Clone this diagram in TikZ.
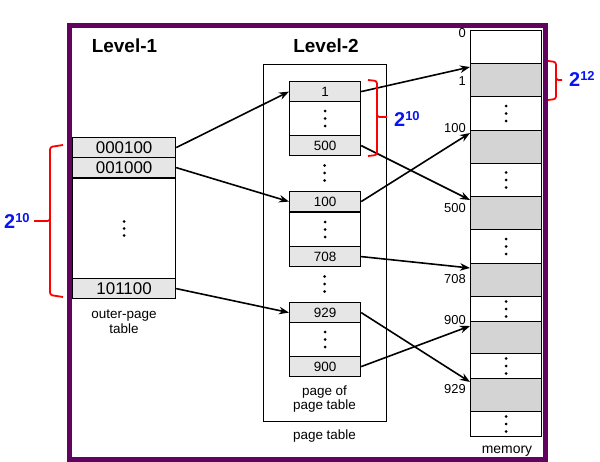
\documentclass[tikz,border=0pt]{standalone}
\usepackage{fontspec}
\setmainfont{Liberation Sans}
\usetikzlibrary{arrows.meta,calc}
\definecolor{framepurple}{RGB}{96,4,96}
\definecolor{rowgray}{RGB}{230,230,230}
\definecolor{memgray}{RGB}{212,212,212}
\definecolor{braceblue}{RGB}{10,20,240}
\newcommand\fs[1]{\fontsize{#1}{#1}\selectfont}
\newcommand\threedots{\threedotsgen}
\newcommand\threedotsgen[2]{\foreach \d in {-1,0,1} {\fill ($(#1)+(0,\d*#2)$) circle (1.5);}}
\begin{document}
\begin{tikzpicture}[x=1bp,y=-1bp,
  box/.style={draw, line width=1.2bp, inner sep=0pt, anchor=north west},
  l1row/.style={box, fill=rowgray, minimum width=103bp, minimum height=20bp, font=\fs{17}},
  ptrow/.style={box, fill=rowgray, minimum width=71bp, minimum height=20bp, font=\fs{13.5}},
  ptblank/.style={box, minimum width=71bp, minimum height=34bp},
  memcell/.style={box, minimum width=71bp, minimum height=#1},
  memfull/.style={box, fill=memgray, minimum width=71bp, minimum height=33bp},
  lbl/.style={font=\fs{13.5}, inner sep=0pt},
  memlbl/.style={font=\fs{13}, inner sep=0pt, anchor=east},
  title/.style={font=\bfseries\fs{19}, inner sep=0pt, anchor=base},
  link/.style={line width=1.6bp, -{Stealth[length=10bp,width=7.5bp]}},
  brace/.style={red, line width=1.8bp, rounded corners=2.5bp},
  power/.style={text=braceblue, font=\bfseries, inner sep=0pt, anchor=base west}
]
\useasboundingbox (0,0) rectangle (600,462);
\fill[white] (0,0) rectangle (600,462);
% frame
\draw[framepurple, line width=4.5bp] (69.5,25.5) rectangle (545.5,459.5);

% titles
\node[title] (t1) at (124.5,53) {Level-1};
\node[title] (t2) at (326,53) {Level-2};

% Level-1 table
\node[l1row] (a1) at (72,137) {000100};
\node[l1row] (a2) at (72,157) {001000};
\node[box, minimum width=103bp, minimum height=100bp] (ab) at (72,178) {};
\node[l1row] (a3) at (72,278) {101100};
\threedots{ab.center}{7}
\node[lbl, align=center] (olbl) at (124,321.5) {outer-page\\[1bp]table};

% Level-2 page table
\node[box, line width=1bp, minimum width=123bp, minimum height=357bp] (pt) at (263,64) {};
\node[ptrow] (p1) at (289,81) {1};
\node[ptblank] (pb1) at (289,101) {};
\node[ptrow] (p500) at (289,135) {500};
\node[ptrow] (p100) at (289,191) {100};
\node[ptblank] (pb2) at (289,212) {};
\node[ptrow] (p708) at (289,246) {708};
\node[ptrow] (p929) at (289,302) {929};
\node[ptblank] (pb3) at (289,322) {};
\node[ptrow] (p900) at (289,356) {900};
\threedots{pb1.center}{7.5}
\threedots{pb2.center}{7.5}
\threedots{pb3.center}{7.5}
\coordinate (pg1) at (324.5,173);
\coordinate (pg2) at (324.5,284);
\threedots{pg1}{7.5}
\threedots{pg2}{7.5}
\node[lbl, align=center] (pplbl) at (324.5,399) {page of\\page table};
\node[lbl] (ptlbl) at (324.5,436) {page table};

% memory
\node[memcell=33bp] (m0) at (470,30) {};
\node[memfull] (m1) at (470,63) {};
\node[memcell=34bp] (md1) at (470,96) {};
\node[memfull] (m100) at (470,130) {};
\node[memcell=33bp] (md2) at (470,163) {};
\node[memfull] (m500) at (470,196) {};
\node[memcell=34bp] (md3) at (470,229) {};
\node[memfull] (m708) at (470,263) {};
\node[memcell=25bp] (md4) at (470,296) {};
\node[memfull, minimum height=32bp] (m900) at (470,321) {};
\node[memcell=25bp] (md5) at (470,353) {};
\node[memfull] (m929) at (470,378) {};
\node[memcell=25bp] (md6) at (470,411) {};
\foreach \n in {md1,md2,md3,md4,md5,md6} {\threedots{\n.center}{7.5}}
\node[font=\fs{14}, inner sep=0pt] (mlbl) at (507,451) {memory};

\node[memlbl] (l0) at (466,33) {0};
\node[memlbl] (l1) at (466,81) {1};
\node[memlbl] (l100) at (466,128) {100};
\node[memlbl] (l500) at (466,208) {500};
\node[memlbl] (l708) at (466,279) {708};
\node[memlbl] (l900) at (466,320) {900};
\node[memlbl] (l929) at (466,389) {929};

% links level-1 -> level-2
\draw[link] (a1.east) -- (p1.west);
\draw[link] (a2.east) -- (p100.west);
\draw[link] (a3.east) -- (p929.west);
% links level-2 -> memory
\draw[link] (p1.east) -- ($(m1.north west)+(0,4)$);
\draw[link] (p500.east) -- ($(m500.north west)+(0,4)$);
\draw[link] (p100.east) -- ($(m100.north west)+(0,3)$);
\draw[link] (p708.east) -- ($(m708.north west)+(0,5)$);
\draw[link] (p929.east) -- ($(m929.north west)+(0,4)$);
\draw[link] (p900.east) -- ($(m900.north west)+(0,5)$);

% braces
\draw[brace] (63,145) -- (50,147) -- (50,221) -- (34,221);
\draw[brace] (50,219) -- (50,295) -- (63,297);
\node[power] (pw1) at (4,229) {\fs{20}2\raisebox{6.5bp}{\fs{13}10}};

\draw[brace] (368,80) -- (377,81) -- (377,117) -- (387,117);
\draw[brace] (377,115) -- (377,155) -- (368,156);
\node[power] (pw2) at (394,127) {\fs{20}2\raisebox{6.5bp}{\fs{13}10}};

\draw[brace] (548,61) -- (556,62) -- (556,80) -- (562,80);
\draw[brace] (556,78) -- (556,99) -- (548,100);
\node[power] (pw3) at (569,87) {\fs{20}2\raisebox{6.5bp}{\fs{13}12}};
\end{tikzpicture}
\end{document}
